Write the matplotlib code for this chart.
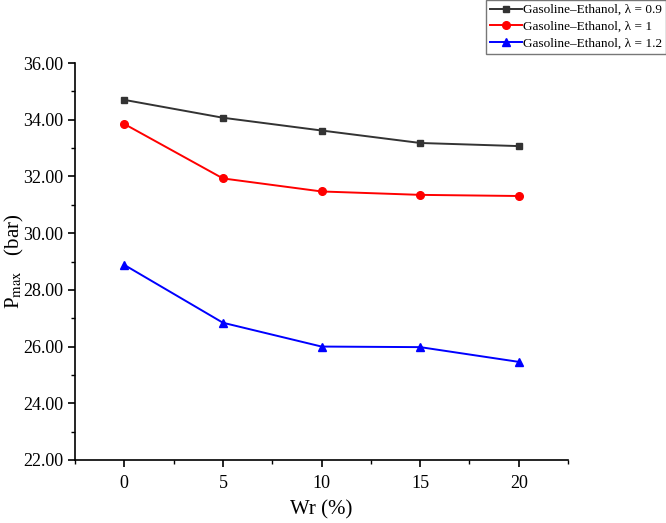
import matplotlib.pyplot as plt
from matplotlib.ticker import MultipleLocator, FormatStrFormatter

plt.rcParams['font.family'] = ['Liberation Serif', 'DejaVu Serif']
plt.rcParams['mathtext.fontset'] = 'stix'

wr = [0, 5, 10, 15, 20]
p_09 = [34.70, 34.07, 33.62, 33.18, 33.07]
p_10 = [33.85, 31.93, 31.47, 31.35, 31.31]
p_12 = [28.88, 26.84, 26.00, 25.98, 25.46]

fig = plt.figure(figsize=(6.66, 5.23), dpi=100)
ax = fig.add_axes([0.1126, 0.1205, 0.7404, 0.759])

ax.plot(wr, p_09, color='#333333', marker='s', markersize=5, linewidth=1.4,
        label='Gasoline\u2013Ethanol, \u03bb = 0.9')
ax.plot(wr, p_10, color='red', marker='o', markersize=5.5, linewidth=1.4,
        label='Gasoline\u2013Ethanol, \u03bb = 1')
ax.plot(wr, p_12, color='blue', marker='^', markersize=6, linewidth=1.4,
        label='Gasoline\u2013Ethanol, \u03bb = 1.2')

ax.set_xlim(-2.5, 22.5)
ax.set_ylim(22, 36)
ax.xaxis.set_major_locator(MultipleLocator(5))
ax.xaxis.set_minor_locator(MultipleLocator(2.5))
ax.yaxis.set_major_locator(MultipleLocator(2))
ax.yaxis.set_minor_locator(MultipleLocator(1))
ax.yaxis.set_major_formatter(FormatStrFormatter('%.2f'))

for s in ['top', 'right']:
    ax.spines[s].set_visible(False)
for s in ['left', 'bottom']:
    ax.spines[s].set_linewidth(1.2)
ax.tick_params(which='major', direction='out', length=5, width=1.2, labelsize=13)
ax.tick_params(axis='x', which='major', pad=6)
ax.tick_params(which='minor', direction='out', length=3, width=1.0)

ax.set_xlabel('Wr (%)', fontsize=15, labelpad=6)
ax.set_ylabel('P$_{\\mathrm{max}}$   (bar)', fontsize=15)
ax.yaxis.set_label_coords(-0.1, 0.5)

fig.legend(loc='upper right', bbox_to_anchor=(1.0, 1.0), fontsize=9.5,
           frameon=True, fancybox=False, edgecolor='#555555',
           borderpad=0.3, labelspacing=0.35, handlelength=2.4,
           handletextpad=0.1, borderaxespad=0.0)

fig.savefig('out.png', dpi=100)
